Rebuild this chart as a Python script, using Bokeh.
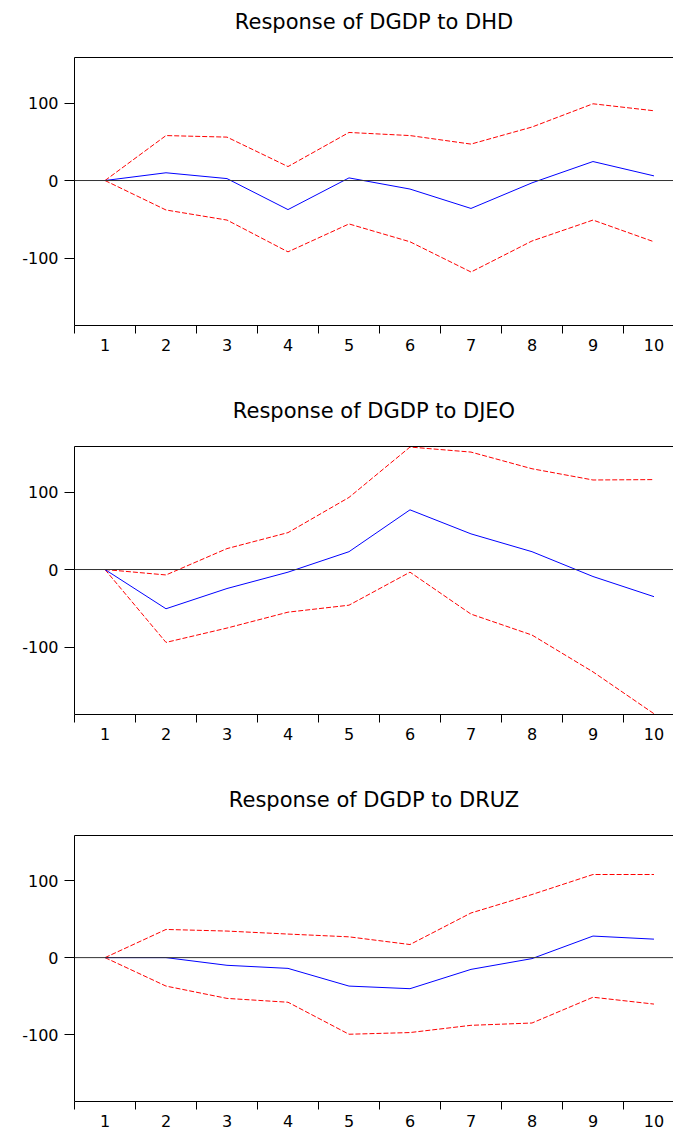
from bokeh.plotting import figure
from bokeh.models import Range1d, FixedTicker, LinearAxis, Span
from bokeh.layouts import column
from bokeh.embed import file_html
from bokeh.resources import INLINE

# ---- data ----
periods = [1, 2, 3, 4, 5, 6, 7, 8, 9, 10]
y_tick_values = [-100, 0, 100]
y_tick_labels = {-100: "-100", 0: "0", 100: "100"}

titles = ["Response of DGDP to DHD",
          "Response of DGDP to DJEO",
          "Response of DGDP to DRUZ"]

dhd_resp = [0, 10, 2.5, -37.5, 3.4, -11, -36, -3, 24.5, 6]
dhd_upper = [0, 58, 56, 18, 62, 58, 47, 69, 99, 90]
dhd_lower = [0, -38, -51, -92, -56, -79, -118, -78, -51, -79]

djeo_resp = [0, -50.6, -24.5, -3.4, 23, 77, 46, 23, -9, -35]
djeo_upper = [0, -7, 27, 47.6, 93, 158, 151.5, 130, 115.5, 116]
djeo_lower = [0, -94, -75.5, -55, -46, -3.4, -57.5, -84.5, -132, -186]

druz_resp = [0, 0, -10, -14, -37, -40.4, -15.3, -1.3, 28, 24]
druz_upper = [0, 36.6, 34.5, 30.6, 27, 17, 58, 82, 108, 108]
druz_lower = [0, -37, -53, -58, -99.6, -97.4, -88, -85, -51.5, -60.4]

FONT = "DejaVu Sans"
Y_MIN, Y_MAX = -187, 158.7
X_MIN, X_MAX = 0.5, 10.32


def make_panel(title, resp, upper, lower, height, bottom_border):
    p = figure(width=673, height=height, output_backend="svg",
               toolbar_location=None, title=None,
               x_range=Range1d(X_MIN, X_MAX), y_range=Range1d(Y_MIN, Y_MAX),
               min_border_left=74, min_border_right=0,
               min_border_top=57, min_border_bottom=bottom_border)
    p.grid.visible = False
    p.outline_line_color = None
    p.background_fill_color = "white"
    p.border_fill_color = "white"

    # x axis: labels at periods, tick marks between them
    xa = p.xaxis[0]
    xa.ticker = FixedTicker(ticks=periods,
                            minor_ticks=[v - 0.5 for v in periods] + [10.5])
    xa.major_tick_out = 0
    xa.major_tick_in = 0
    xa.minor_tick_out = 8
    xa.minor_tick_in = 0
    xa.minor_tick_line_color = "black"
    xa.axis_line_color = "black"
    xa.major_label_standoff = 5
    xa.major_label_text_font = FONT
    xa.major_label_text_font_size = "16px"
    xa.major_label_text_color = "black"

    ya = p.yaxis[0]
    ya.ticker = FixedTicker(ticks=y_tick_values, minor_ticks=[])
    ya.major_label_overrides = y_tick_labels
    ya.major_tick_out = 10
    ya.major_tick_in = 0
    ya.major_tick_line_color = "black"
    ya.axis_line_color = "black"
    ya.major_label_standoff = 6
    ya.major_label_text_font = FONT
    ya.major_label_text_font_size = "16px"
    ya.major_label_text_color = "black"

    # top frame line, carrying the panel title
    top = LinearAxis(ticker=FixedTicker(ticks=[], minor_ticks=[]),
                     axis_line_color="black",
                     major_tick_out=0, major_tick_in=0,
                     minor_tick_out=0, minor_tick_in=0,
                     major_label_standoff=0,
                     major_label_text_font_size="0px",
                     axis_label=title,
                     axis_label_standoff=24,
                     axis_label_text_font=FONT,
                     axis_label_text_font_size="21px",
                     axis_label_text_font_style="normal",
                     axis_label_text_color="black")
    p.add_layout(top, "above")

    p.add_layout(Span(location=0, dimension="width",
                      line_color="#333333", line_width=1))

    p.line(periods, upper, line_color="#ff0000", line_width=1,
           line_dash="5 2")
    p.line(periods, lower, line_color="#ff0000", line_width=1,
           line_dash="5 2")
    p.line(periods, resp, line_color="#0000ff", line_width=1)
    return p


p1 = make_panel(titles[0], dhd_resp, dhd_upper, dhd_lower, 389, 64)
p2 = make_panel(titles[1], djeo_resp, djeo_upper, djeo_lower, 389, 64)
p3 = make_panel(titles[2], druz_resp, druz_upper, druz_lower, 351, 26)

layout = column(p1, p2, p3, spacing=0)
open("out.html", "w").write(file_html(layout, INLINE))
